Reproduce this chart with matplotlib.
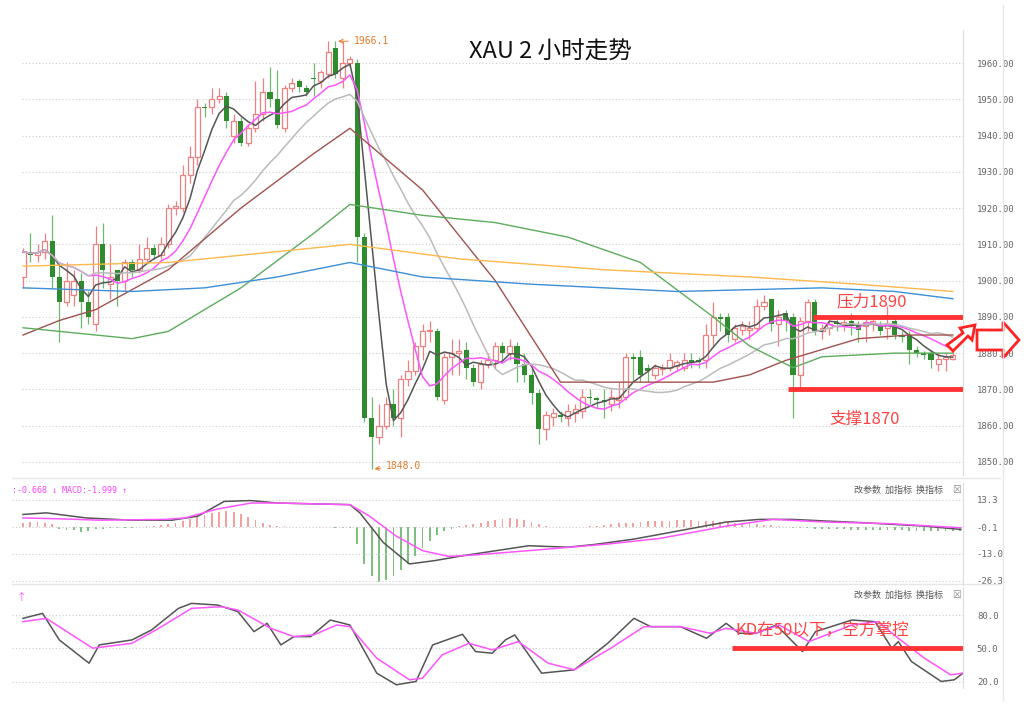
import numpy as np
import pandas as pd
import matplotlib
matplotlib.use("Agg")
import matplotlib.pyplot as plt
from matplotlib.patches import Polygon

plt.rcParams['font.family'] = ['Noto Sans CJK SC', 'DejaVu Sans']

# 2h candles: open, close, high, low
opens = [1901,1908,1907,1908,1911,1901,1894,1896,1900,1894,1888,1910,1899,1903,1900,1905,1903,1906,1909,1907,
         1910,1920,1920,1929,1934,1948,1948,1950,1951,1940,1944,1938,1942,1946,1952,1950,1942,1953,1955,1953,
         1956,1955,1957,1964,1956,1960,1960,1912,1862,1857,1860,1866,1862,1873,1875,1882,1886,1886,1867,1879,
         1880,1881,1876,1872,1877,1878,1882,1880,1882,1877,1874,1869,1859,1862.5,1863,1862,1863.5,1864,1868,1867.5,
         1867,1866,1867,1868,1879,1879,1876,1874,1875.5,1876,1876.5,1876,1878,1878,1878,1885,1890,1890,1884,1886.5,
         1886.5,1887,1893,1895,1888,1891,1890,1874,1889,1894,1886,1887,1888.5,1888,1889,1887.5,1887.5,1888,1887.5,1887,
         1889,1885,1885,1881,1880,1880,1877,1878.5,1878.5]
closes = [1908,1907,1908,1911,1901,1894,1900,1900,1894,1890,1910,1903,1901,1900,1905,1903,1906,1909,1907,1910,
          1920,1920.5,1929,1934,1948,1947.5,1950,1951,1944,1944,1938,1942,1946,1952,1950,1943,1953,1954.5,1953.5,1952,
          1955.5,1957.5,1963,1957,1960,1961,1912,1862,1857,1860,1866,1862,1873,1875,1882,1886,1886.5,1868,1879,1880,
          1880.5,1876,1872,1877,1878,1882,1880,1882,1877,1874,1869,1859,1863,1863.5,1862.5,1864,1864.5,1868,1867.5,1867,
          1866.5,1868,1868,1879,1878.5,1874,1875,1876,1876,1878,1877.5,1878,1877.5,1877.5,1885,1890,1889.5,1885,1887,1887.5,
          1887,1893,1894,1888,1890,1889,1874,1889,1894,1886,1887,1888,1888,1888.5,1887.5,1886.5,1888.5,1889,1886,1888,
          1885,1884.5,1881,1880,1879.5,1878,1878.5,1879,1879.5]
highs = [1909,1913,1910,1913,1918,1905,1905,1903,1902,1897,1915,1916,1910,1903,1906,1906,1910,1912,1910,1912,
         1921,1922,1932,1937,1950,1949,1953,1953,1952,1946,1945,1943,1955,1956,1959,1958,1954,1956,1955.5,1954,
         1960,1958,1966,1966,1966,1962,1961,1913,1868,1866,1868,1870,1874,1878,1883,1888,1889,1887,1880,1884,
         1884,1883,1877,1878,1880,1883,1883,1884,1883,1880,1876,1870,1864,1865,1864,1866,1866,1870,1870,1868,
         1870,1870,1872,1880,1880,1881,1877,1877,1877,1880,1878,1880,1880,1879,1888,1894,1891,1891,1888,1889,
         1889,1895,1896,1895,1892,1892,1891,1890,1895,1895,1888,1890,1890,1890,1891,1889,1890,1890,1889,1893,
         1890,1886,1886,1882,1880.5,1881,1880,1880,1881]
lows = [1898,1905,1905,1906,1898,1883,1893,1893,1887,1888,1886,1898,1895,1893,1897,1901,1902,1905,1906,1906,
        1909,1918,1919,1927,1932,1945,1946,1949,1942,1938,1937,1937,1941,1944,1948,1942,1941,1952,1952,1951,
        1951,1953,1956,1956,1953,1959,1905,1861,1848,1855,1859,1860,1857,1871,1874,1878,1883,1867,1866,1874,
        1874,1873,1871,1870,1876,1876,1878,1878,1872,1872,1866,1855,1856,1860,1861,1860,1861,1862,1866,1865,
        1862,1864,1865,1867,1872,1872,1872,1873,1874,1875,1875,1875,1876,1876,1876,1882,1886,1883,1883,1885,
        1884,1886,1892,1886,1882,1886,1862,1870,1886,1885,1884,1885,1886,1886,1885,1883,1883,1886,1885,1884,
        1884,1883,1877,1879,1878.5,1876,1875,1875,1878]

# longer moving averages (candle index, price)
brown_i = [0,5,10,20,30,40,45,55,65,74,85,95,100,105,110,115,122,128]
brown_v = [1885,1889,1892,1903,1920,1935,1942,1925,1900,1872,1872,1872,1874,1878,1881,1884,1885,1885]
green_i = [0,10,15,20,30,40,45,55,65,75,85,95,100,106,110,120,128]
green_v = [1887,1885,1884,1886,1898,1913,1921,1918,1916,1912,1905,1890,1882,1876,1879,1880,1880]
orange_i = [0,20,45,60,80,100,115,128]
orange_v = [1904,1905,1910,1906,1903,1901,1899,1897]
blue_i = [0,15,25,35,45,55,70,90,110,120,128]
blue_v = [1898,1897,1898,1901,1905,1901,1899,1897,1898,1897,1895]

# MACD panel
dif_i = [0,3.2,8.7,15,20.5,24.1,27.7,31.4,35,45,46.4,49.6,53.2,56.8,60.5,69.6,75,78.6,84,87.7,96.8,101.4,105.9,110.5,115,124.1,129.1]
dif_v = [6.2,7.0,4.5,3.4,3.4,5.4,12.6,13.0,11.8,11.0,6.9,-7.5,-18.0,-16.3,-14.0,-9.1,-9.8,-8.5,-5.9,-3.5,2.5,3.8,3.8,3.0,2.3,0.5,-1.1]
dea_i = [0,5.9,10.5,19.6,22.3,26.8,31.4,35,45,47.7,51.3,55,58.6,62.2,69.6,75,80.4,87.7,96.8,103.2,110.5,119.5,129.1]
dea_v = [4.5,4.0,3.4,3.8,4.5,8.9,11.8,11.8,11.0,5.4,-4.2,-11.5,-14.3,-13.6,-11.5,-9.9,-8.3,-5.5,0.5,3.8,2.5,1.7,-0.3]
hist = [2.0,2.3,2.5,2.2,1.5,
        -0.8,-1.2,-1.5,-2.5,-1.8,-1.0,-0.8,-0.5,
        -0.4,-0.3,-0.2,0.2,0.4,0.6,1.0,
        1.5,2.2,3.0,4.0,5.0,6.0,6.8,7.5,8.0,7.5,6.5,5.0,3.5,2.0,1.0,
        0.5,0.4,0.3,0.3,0.2,0.2,0.1,-0.1,-0.2,-0.3,-0.5,
        -8,-18,-24,-27,-26,-24,-21,-18,-14,-10,-7,-4,-2,-1,
        0.5,1,1.5,2.2,3,3.5,4,4.5,4.2,3.5,2.5,1.5,0.8,
        0.3,0.2,0.1,0.2,0.3,0.5,0.8,
        1.2,1.5,1.8,2.0,2.2,2.5,2.8,3,3.2,3.2,3.4,3.5,3.3,3.2,3.0,2.8,2.5,2.4,2.2,2.0,1.8,1.5,1.2,1.0,0.6,0.3,
        -0.3,-0.5,-0.6,-0.8,-0.9,-1.0,-1.0,-1.1,-1.2,-1.2,-1.3,-1.3,-1.4,-1.5,-1.5,-1.6,-1.7,-1.8,-1.8,-1.9,-2.0,-2.0,-1.9,-1.8]

# KD panel
k_i = [0,2.7,5.0,9.1,10.5,15,17.7,21.4,23.2,26.8,29.6,31.8,33.6,35.5,37.3,39.6,42.3,45,48.7,51.4,54.1,56.4,60.5,62.3,64.6,66.4,67.7,71.4,75.9,80.5,84.1,86.4,90.5,94.1,96.8,98.6,100.9,103.7,107.3,109.1,114.1,117.3,119.6,120.5,122.3,126.4,128.2,129.4]
k_v = [77.1,81.6,57.6,36.6,53.1,57.6,66.6,86.1,90.6,89.1,83.1,65.1,72.6,53.1,60.6,60.6,75.6,71.1,27.6,17.1,20.1,53.1,62.7,47.1,45.6,57.6,62.1,27.6,30.6,54.6,77.1,69.6,69.6,59.1,72.6,63.6,63.6,71.1,47.1,65.1,75.6,74.1,50.1,56.1,38.1,20.1,21.6,27.6]
d_i = [0,3.2,9.6,15,18.7,23.2,27.3,29.6,34.1,37.3,40,43.2,45,48.7,53.2,55,57.7,61.4,64.6,68.2,72.3,75.9,80.9,85.5,90.5,94.6,96.8,100.9,104.1,108.2,114.1,117.7,120.5,124.1,127.7,129.4]
d_v = [74.1,77.1,50.1,54.6,68.1,86.1,87.6,84.6,68.1,60.6,62.1,71.1,69.6,41.1,21.6,23.1,44.1,54.6,48.6,56.1,36.6,30.6,50.1,69.6,69.6,63.6,68.1,63.6,71.1,56.1,71.1,74.1,59.1,41.1,26.1,27.6]

price_ticks = list(range(1850, 1961, 10))
macd_ticks = [13.3, -0.1, -13.0, -26.3]
kd_ticks = [80.0, 50.0, 20.0]

W, H = 1024, 706
fig = plt.figure(figsize=(W / 100, H / 100), dpi=100)

def box(l, t, r, b):
    return [l / W, 1 - b / H, (r - l) / W, (b - t) / H]

ax = fig.add_axes(box(22, 30, 963, 475))
am = fig.add_axes(box(12, 483, 963, 585))
ak = fig.add_axes(box(12, 588, 963, 688))

n = len(closes)
x = np.arange(n)
o = np.array(opens); c = np.array(closes)
up = c >= o
red = '#f08080'
grn = '#2e8b2e'

ax.vlines(x[up], np.array(lows)[up], np.array(highs)[up], color=red, lw=0.9, zorder=2)
ax.vlines(x[~up], np.array(lows)[~up], np.array(highs)[~up], color='#6fb86f', lw=0.9, zorder=2)
body = np.abs(c - o)
body = np.where(body < 0.4, 0.4, body)
ax.bar(x[up], body[up], bottom=np.minimum(o, c)[up], width=0.7, facecolor='white', edgecolor=red, lw=0.9, zorder=3)
ax.bar(x[~up], body[~up], bottom=np.minimum(o, c)[~up], width=0.7, color=grn, zorder=3)

cs = pd.Series(closes)
ax.plot(x, cs.rolling(5, min_periods=1).mean(), color='#555555', lw=1.1, zorder=4)
ax.plot(x, cs.rolling(10, min_periods=1).mean(), color='#ff55ff', lw=1.1, zorder=4)
ax.plot(x, cs.rolling(20, min_periods=1).mean(), color='#bbbbbb', lw=1.1, zorder=4)
ax.plot(brown_i, brown_v, color='#a0524e', lw=1, zorder=4)
ax.plot(green_i, green_v, color='#5cad5c', lw=1, zorder=4)
ax.plot(orange_i, orange_v, color='#ffb84d', lw=1, zorder=4)
ax.plot(blue_i, blue_v, color='#3d8fd6', lw=1, zorder=4)

ax.set_xlim(-0.14, 129.4)
ax.set_ylim(1846.4, 1969.1)
ax.set_yticks(price_ticks)
ax.set_yticklabels([f'{t:.2f}' for t in price_ticks])

# support / resistance
ax.hlines(1890, 108.7, 129.4, color='#ff3333', lw=3.5, zorder=5)
ax.hlines(1870, 105.3, 129.4, color='#ff3333', lw=3.5, zorder=5)
ax.text(112, 1893, '压力1890', color='#ff4444', fontsize=12)
ax.text(111, 1860.5, '支撑1870', color='#ff4444', fontsize=12)
ax.annotate('1966.1', xy=(43, 1966), xytext=(45.5, 1966), color='#e87a2a', fontsize=7,
            family=['DejaVu Sans Mono'], va='center',
            arrowprops=dict(arrowstyle='->', color='#e87a2a', lw=0.7))
ax.annotate('1848.0', xy=(48, 1848), xytext=(50, 1849), color='#e87a2a', fontsize=7,
            family=['DejaVu Sans Mono'], va='center',
            arrowprops=dict(arrowstyle='->', color='#e87a2a', lw=0.7))

am.bar(np.arange(len(hist)), hist, width=0.25,
       color=['#f4a0a0' if h > 0 else '#7fbf7f' for h in hist])
am.plot(dif_i, dif_v, color='#555555', lw=1.1)
am.plot(dea_i, dea_v, color='#ff55ff', lw=1.1)
am.set_xlim(-1.51, 129.4)
am.set_ylim(-28.3, 21.6)
am.set_yticks(macd_ticks)
am.set_yticklabels([f'{t:.1f}' for t in macd_ticks])

ak.plot(k_i, k_v, color='#555555', lw=1.1)
ak.plot(d_i, d_v, color='#ff55ff', lw=1.1)
ak.hlines(50, 97.6, 130, color='#ff3333', lw=3.5)
ak.text(98, 63, 'KD在50以下，空方掌控', color='#ff4444', fontsize=12)
ak.set_xlim(-1.51, 129.4)
ak.set_ylim(14.2, 104.5)
ak.set_yticks(kd_ticks)
ak.set_yticklabels([f'{t:.1f}' for t in kd_ticks])

for a in (ax, am, ak):
    a.yaxis.tick_right()
    a.tick_params(axis='y', length=0, labelsize=6.5, labelcolor='#666666', pad=10)
    for lab in a.get_yticklabels():
        lab.set_family(['DejaVu Sans Mono'])
    a.set_xticks([])
    a.grid(axis='y', ls=(0, (1, 2)), color='#cccccc', lw=0.8)
    for s in ('top', 'left', 'bottom'):
        a.spines[s].set_visible(False)
    a.spines['right'].set_color('#dddddd')

am.text(0.0, 0.9, ':-0.668 ↓ MACD:-1.999 ↑', transform=am.transAxes, color='#ff44ff', fontsize=6,
        family=['DejaVu Sans Mono'])
ak.text(0.005, 0.88, '↑', transform=ak.transAxes, color='#ff44ff', fontsize=7)
for a, yy in ((am, 0.9), (ak, 0.9)):
    a.text(0.885, yy, '改参数  加指标  换指标', transform=a.transAxes, color='#555555', fontsize=6.5, ha='left')
    a.text(0.993, yy, '☒', transform=a.transAxes, color='#888888', fontsize=7, ha='center', family=['DejaVu Sans'])

for yy in (478, 584):
    fig.add_artist(plt.Line2D([12 / W, 1000 / W], [1 - yy / H] * 2, color='#e6e6e6', lw=1))
fig.add_artist(plt.Line2D([1003 / W] * 2, [1 - 5 / H, 1 - 700 / H], color='#e6e6e6', lw=1))

fig.text(550 / W, 1 - 52 / H, 'XAU 2 小时走势', fontsize=17, ha='center', va='center', color='#111111')

# hollow red arrows at right
def farrow(pts):
    fig.add_artist(Polygon([(px / W, 1 - py / H) for px, py in pts], closed=True,
                           transform=fig.transFigure, facecolor='white', edgecolor='#ff2222', lw=2))

farrow([(947, 345), (963, 333), (960, 328), (975, 325), (972, 340), (968, 336), (953, 351)])
farrow([(977, 330), (1003, 330), (1003, 322), (1019, 340), (1003, 358), (1003, 350), (977, 350)])

fig.savefig('out.png', dpi=100, facecolor='white')
